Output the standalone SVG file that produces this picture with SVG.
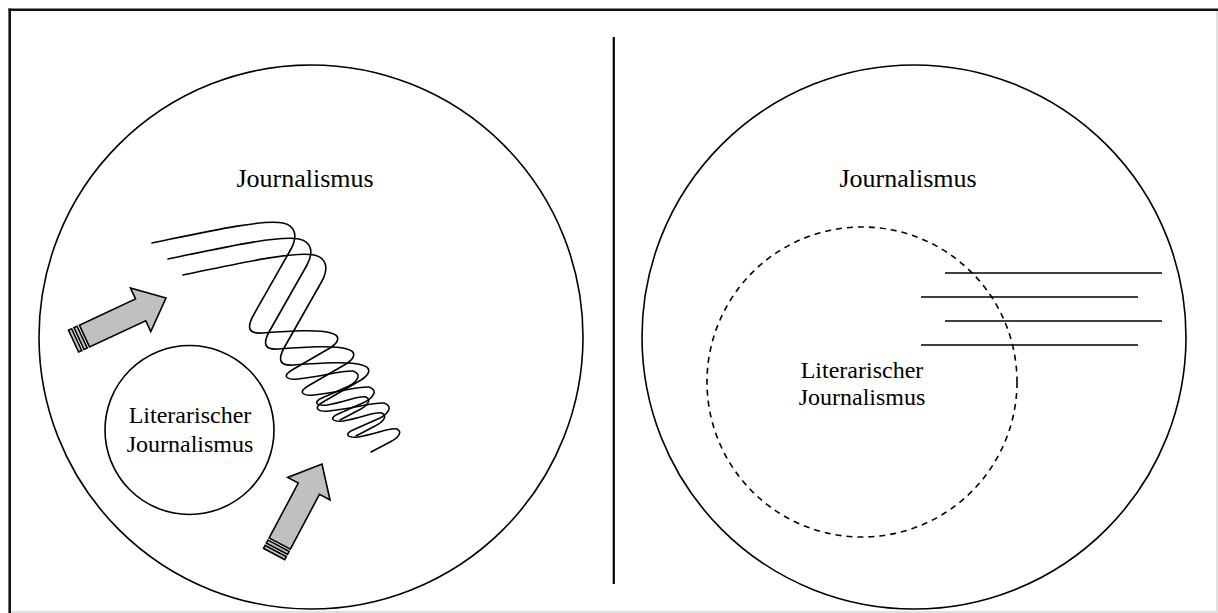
<svg xmlns="http://www.w3.org/2000/svg" width="1218" height="613" viewBox="0 0 1218 613">
<defs>
<style>
.c{fill:none;stroke:#000;stroke-width:1.6}
.t{font-family:"Liberation Serif","Times New Roman",serif;fill:#000;text-anchor:middle}
.w{fill:none;stroke:#000;stroke-width:1.6;stroke-linecap:round;stroke-linejoin:round}
.a{fill:#c0c0c0;stroke:#000;stroke-width:1.6;stroke-linejoin:miter}
</style>
<g id="arrowShape">
<rect class="a" x="-102" y="-12" width="3.5" height="24"/>
<rect class="a" x="-96" y="-12" width="3.5" height="24"/>
<polygon class="a" points="-90,-12 -28,-12 -28,-24 0,0 -28,24 -28,12 -90,12"/>
</g>
<path id="coil" d="M152,243 C205,232 262,219 283,223 C297,226 297,238 291,249 L253,316 C246,329 250,334 262,333 C290,331 318,329 331,333 C342,336 338,343 330,348 L292,370 C282,376 286,380 298,379 C320,377 343,370 353,371 C362,374 358,381 349,386 L322,398 C313,402 316,406 327,405 C345,402 360,395 366,397 C372,400 367,406 359,410 L340,420"/>
</defs>
<rect x="0" y="0" width="1218" height="613" fill="#fff"/>
<g id="frame">
<line x1="9.7" y1="8.5" x2="9.7" y2="613" stroke="#111" stroke-width="2.6"/>
<line x1="8.5" y1="9.7" x2="1218" y2="9.7" stroke="#111" stroke-width="2.6"/>
<line x1="1217" y1="11" x2="1217" y2="613" stroke="#e0e0e0" stroke-width="2"/>
<line x1="11" y1="612" x2="1218" y2="612" stroke="#e0e0e0" stroke-width="2"/>
<line x1="613.8" y1="37" x2="613.8" y2="584" stroke="#000" stroke-width="2.2"/>
</g>
<g id="left-journalismus">
<circle class="c" cx="311" cy="337" r="272"/>
<text class="t" x="305" y="187" font-size="26">Journalismus</text>
</g>
<g id="left-literarisch">
<circle class="c" cx="189.5" cy="430" r="84.5"/>
<text class="t" x="190" y="423" font-size="24">Literarischer</text>
<text class="t" x="190" y="452" font-size="24">Journalismus</text>
</g>
<g id="arrow1" transform="translate(166,298) rotate(-25)"><use href="#arrowShape"/></g>
<g id="arrow2" transform="translate(322,464) rotate(-62)"><use href="#arrowShape"/></g>
<g id="wave">
<use href="#coil" class="w"/>
<use href="#coil" class="w" transform="translate(16,16)"/>
<use href="#coil" class="w" transform="translate(31,32)"/>
</g>
<g id="right-journalismus">
<circle class="c" cx="914" cy="337" r="272"/>
<text class="t" x="908" y="187" font-size="26">Journalismus</text>
</g>
<g id="right-literarisch">
<circle cx="862" cy="382" r="155" fill="none" stroke="#000" stroke-width="1.6" stroke-dasharray="6,5"/>
<text class="t" x="862" y="378" font-size="24">Literarischer</text>
<text class="t" x="862" y="405" font-size="24">Journalismus</text>
</g>
<g id="lines" stroke="#000" stroke-width="1.6">
<line x1="945" y1="273" x2="1162" y2="273"/>
<line x1="921" y1="297" x2="1138" y2="297"/>
<line x1="945" y1="321" x2="1162" y2="321"/>
<line x1="921" y1="345" x2="1138" y2="345"/>
</g>
</svg>
